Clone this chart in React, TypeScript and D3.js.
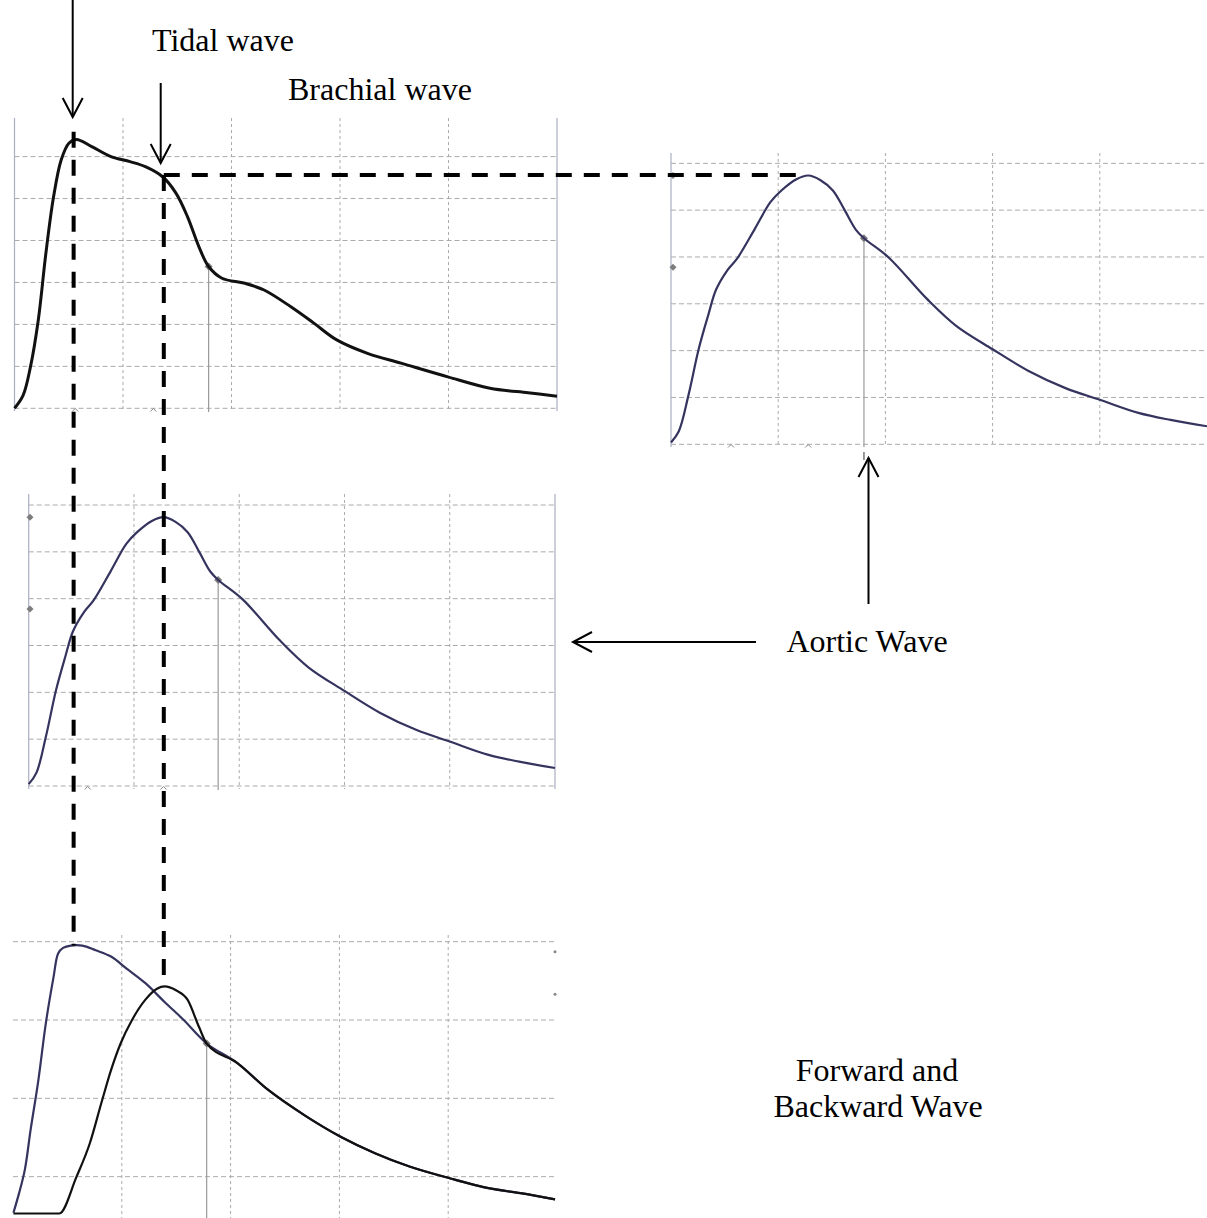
import React from "react";
import * as d3 from "d3";

// ---------- DATA (grid units: x = columns, y = rows) ----------
const brachialWave: [number, number][] = [
  [0.0, 0.0], [0.078, 0.3], [0.148, 1.0], [0.219, 2.1], [0.289, 3.69], [0.36, 5.04],
  [0.43, 5.92], [0.501, 6.32], [0.571, 6.41], [0.712, 6.24], [0.889, 6.0], [1.065, 5.88],
  [1.206, 5.76], [1.365, 5.52], [1.488, 5.13], [1.594, 4.57], [1.7, 3.85], [1.789, 3.38],
  [1.912, 3.1], [2.124, 2.98], [2.3, 2.82], [2.547, 2.42], [2.759, 2.03], [2.97, 1.63],
  [3.253, 1.31], [3.57, 1.07], [3.994, 0.75], [4.382, 0.48], [4.733, 0.37], [5.0, 0.29],
];

const aorticWave: [number, number][] = [
  [0.0, 0.04], [0.073, 0.28], [0.163, 1.05], [0.26, 2.05], [0.35, 2.78], [0.42, 3.3],
  [0.527, 3.72], [0.618, 3.97], [0.782, 4.6], [0.927, 5.17], [1.03, 5.42], [1.17, 5.66],
  [1.28, 5.74], [1.395, 5.64], [1.51, 5.42], [1.62, 5.0], [1.725, 4.58], [1.8, 4.4],
  [2.03, 3.99], [2.39, 3.1], [2.66, 2.53], [3.0, 2.03], [3.34, 1.56], [3.68, 1.2],
  [4.0, 0.95], [4.36, 0.67], [4.66, 0.52], [5.0, 0.385],
];

const forwardWave: [number, number][] = [
  [0.004, 0.54], [0.056, 0.79], [0.109, 1.09], [0.162, 1.6], [0.233, 2.23], [0.302, 2.96],
  [0.373, 3.55], [0.415, 3.85], [0.46, 3.92], [0.531, 3.95], [0.637, 3.95], [0.76, 3.89],
  [0.901, 3.81], [1.041, 3.66], [1.217, 3.47], [1.393, 3.23], [1.569, 3.0], [1.78, 2.7],
  [2.062, 2.45], [2.343, 2.11], [2.695, 1.77], [3.011, 1.51], [3.327, 1.3], [3.644, 1.13],
  [4.014, 0.98], [4.383, 0.85], [4.665, 0.79], [4.982, 0.71],
];

const backwardWave: [number, number][] = [
  [0.004, 0.53], [0.426, 0.53], [0.584, 1.0], [0.707, 1.43], [0.812, 1.94], [0.901, 2.36],
  [0.989, 2.7], [1.094, 3.0], [1.217, 3.26], [1.323, 3.4], [1.393, 3.43], [1.498, 3.38],
  [1.604, 3.26], [1.71, 2.91], [1.78, 2.7], [2.062, 2.45], [2.343, 2.11], [2.695, 1.77],
  [3.011, 1.51], [3.327, 1.3], [3.644, 1.13], [4.014, 0.98], [4.383, 0.85], [4.665, 0.79],
  [4.982, 0.71],
];

const colTicks = [1, 2, 3, 4];
const rowTicks = [0, 1, 2, 3, 4, 5, 6];
const forwardRowTicks = [1, 2, 3, 4];

const markerTimes = { brachial: 1.789, aortic: 1.8, combined: 1.78 };
const aorticSideMarks = [5.74, 3.78];
const caretTimes = [0.56, 1.28];

const systolicPeakTime = 0.545;
const tidalTime = 1.376;
const tidalLevel = 5.56;
const dashedTopLevel = 6.59;
const aorticDashEnd = 1.17;

const labelTexts = ["Tidal wave", "Brachial wave", "Aortic Wave", "Forward and", "Backward Wave"];

// ---------- LAYOUT ----------
const W = 1207;
const H = 1218;
const FONT = "'Liberation Serif', 'Times New Roman', serif";
const NAVY = "#34345f";
const GRID = "#ababab";
const BORDER = "#a9aec4";

const x1 = d3.scaleLinear().domain([0, 5]).range([14.5, 557]);
const y1 = d3.scaleLinear().domain([0, 1]).range([408.3, 408.3 - 41.95]);
const x2 = d3.scaleLinear().domain([0, 5]).range([671, 1207]);
const y2 = d3.scaleLinear().domain([0, 1]).range([444.3, 444.3 - 46.83]);
const x3 = d3.scaleLinear().domain([0, 5]).range([28.7, 555]);
const y3 = d3.scaleLinear().domain([0, 1]).range([786, 786 - 46.83]);
const x4 = d3.scaleLinear().domain([0, 5]).range([13, 557]);
const y4 = d3.scaleLinear().domain([0, 1]).range([1255, 1255 - 78.33]);

type Sc = d3.ScaleLinear<number, number>;

function linePath(data: [number, number][], x: Sc, y: Sc, smooth = true) {
  return (
    d3
      .line<[number, number]>()
      .x((d) => x(d[0]))
      .y((d) => y(d[1]))
      .curve(smooth ? d3.curveCatmullRom.alpha(0.5) : d3.curveMonotoneX)(data) || ""
  );
}

function valueAt(data: [number, number][], t: number) {
  for (let i = 0; i < data.length - 1; i++) {
    const a = data[i];
    const b = data[i + 1];
    if (t >= a[0] && t <= b[0]) {
      const k = (t - a[0]) / (b[0] - a[0]);
      return a[1] + k * (b[1] - a[1]);
    }
  }
  return data[data.length - 1][1];
}

function Grid({
  x, y, rows, top, bottom, left, right, leftBorder, rightBorder,
}: {
  x: Sc; y: Sc; rows: number[]; top: number; bottom: number; left: number; right: number;
  leftBorder?: boolean; rightBorder?: boolean;
}) {
  return (
    <g>
      {rows.map((r) => (
        <line key={"h" + r} x1={left} x2={right} y1={y(r)} y2={y(r)}
          stroke={GRID} strokeWidth={1} strokeDasharray="5,3" />
      ))}
      {colTicks.map((c) => (
        <line key={"v" + c} x1={x(c)} x2={x(c)} y1={top} y2={bottom}
          stroke={GRID} strokeWidth={1} strokeDasharray="3,3" />
      ))}
      {leftBorder && <line x1={left} x2={left} y1={top} y2={bottom} stroke={BORDER} strokeWidth={1.2} />}
      {rightBorder && <line x1={right} x2={right} y1={top} y2={bottom} stroke={BORDER} strokeWidth={1.2} />}
    </g>
  );
}

function Diamond({ cx, cy, s = 4 }: { cx: number; cy: number; s?: number }) {
  return (
    <path d={`M${cx},${cy - s}L${cx + s},${cy}L${cx},${cy + s}L${cx - s},${cy}Z`} fill="#7d7d7d" />
  );
}

function Caret({ cx, cy }: { cx: number; cy: number }) {
  return <path d={`M${cx - 3},${cy + 3}L${cx},${cy}L${cx + 3},${cy + 3}`} fill="none" stroke="#888" strokeWidth={1} />;
}

function Arrow({ fx, fy, tx, ty }: { fx: number; fy: number; tx: number; ty: number }) {
  const dx = tx - fx;
  const dy = ty - fy;
  const L = Math.hypot(dx, dy);
  const ux = dx / L;
  const uy = dy / L;
  const hl = 19;
  const hw = 10;
  const bx = tx - ux * hl;
  const by = ty - uy * hl;
  const p1 = [bx - uy * hw, by + ux * hw];
  const p2 = [bx + uy * hw, by - ux * hw];
  return (
    <g stroke="#000" strokeWidth={2} fill="none">
      <line x1={fx} y1={fy} x2={tx} y2={ty} />
      <path d={`M${p1[0]},${p1[1]}L${tx},${ty}L${p2[0]},${p2[1]}`} />
    </g>
  );
}

function Stem({ x, y, t, data, bottom }: { x: Sc; y: Sc; t: number; data: [number, number][]; bottom: number }) {
  const v = valueAt(data, t);
  return (
    <g>
      <line x1={x(t)} x2={x(t)} y1={y(v)} y2={bottom} stroke="#9a9a9a" strokeWidth={1.2} />
      <Diamond cx={x(t)} cy={y(v)} />
    </g>
  );
}

export default function App() {
  const fwdPeak = d3.max(forwardWave, (d) => d[1]) as number;
  const bwdPeak = d3.max(backwardWave, (d) => d[1]) as number;
  const vx1 = x1(systolicPeakTime);
  const vx2 = x1(tidalTime);
  const hy = y1(tidalLevel);

  return (
    <svg width={W} height={H} viewBox={`0 0 ${W} ${H}`}
      style={{ position: "absolute", left: 0, top: 0, background: "#fff" }}>
      <rect x={0} y={0} width={W} height={H} fill="#fff" />

      {/* Panel 1: brachial */}
      <Grid x={x1} y={y1} rows={rowTicks} top={118} bottom={411} left={14.5} right={557} leftBorder rightBorder />
      {caretTimes.map((t) => <Caret key={"c1" + t} cx={x1(t)} cy={408.5} />)}
      <Stem x={x1} y={y1} t={markerTimes.brachial} data={brachialWave} bottom={412} />
      <path d={linePath(brachialWave, x1, y1)} fill="none" stroke="#111" strokeWidth={3} strokeLinejoin="round" />

      {/* Panel 2: aortic (right) */}
      <Grid x={x2} y={y2} rows={rowTicks} top={153} bottom={447} left={671} right={1207} leftBorder />
      {caretTimes.map((t) => <Caret key={"c2" + t} cx={x2(t)} cy={444.5} />)}
      <Stem x={x2} y={y2} t={markerTimes.aortic} data={aorticWave} bottom={447} />
      <line x1={x2(markerTimes.aortic)} x2={x2(markerTimes.aortic)} y1={452} y2={460} stroke="#777" strokeWidth={1.5} />
      {aorticSideMarks.map((v) => <Diamond key={"s2" + v} cx={673} cy={y2(v)} s={3.5} />)}
      <path d={linePath(aorticWave, x2, y2)} fill="none" stroke={NAVY} strokeWidth={2.2} strokeLinejoin="round" />

      {/* Panel 3: aortic (middle) */}
      <Grid x={x3} y={y3} rows={rowTicks} top={494} bottom={789} left={28.7} right={555} leftBorder rightBorder />
      {caretTimes.map((t) => <Caret key={"c3" + t} cx={x3(t)} cy={786.5} />)}
      <Stem x={x3} y={y3} t={markerTimes.aortic} data={aorticWave} bottom={790} />
      {aorticSideMarks.map((v) => <Diamond key={"s3" + v} cx={30} cy={y3(v)} s={3.5} />)}
      <path d={linePath(aorticWave, x3, y3)} fill="none" stroke={NAVY} strokeWidth={2.2} strokeLinejoin="round" />

      {/* Panel 4: forward and backward */}
      <Grid x={x4} y={y4} rows={forwardRowTicks} top={935} bottom={H} left={13} right={555} />
      <circle cx={555} cy={y4(3.87)} r={1.5} fill="#888" />
      <circle cx={555} cy={y4(3.33)} r={1.5} fill="#888" />
      <Stem x={x4} y={y4} t={markerTimes.combined} data={forwardWave} bottom={H} />
      <path d={linePath(forwardWave, x4, y4)} fill="none" stroke={NAVY} strokeWidth={2.2} strokeLinejoin="round" />
      <path d={linePath(backwardWave, x4, y4, false)} fill="none" stroke="#111" strokeWidth={2.2} strokeLinejoin="round" />

      {/* Dashed guide lines */}
      <line x1={vx1} x2={vx1} y1={y1(dashedTopLevel)} y2={y4(fwdPeak)} stroke="#000" strokeWidth={4} strokeDasharray="16,12" />
      <line x1={vx2} x2={vx2} y1={hy} y2={y4(bwdPeak)} stroke="#000" strokeWidth={4} strokeDasharray="16,12" />
      <line x1={vx2} x2={x2(aorticDashEnd)} y1={hy} y2={hy} stroke="#000" strokeWidth={4} strokeDasharray="16,12" />

      {/* Arrows */}
      <Arrow fx={72.7} fy={0} tx={72.7} ty={117} />
      <Arrow fx={160.7} fy={83} tx={160.7} ty={163} />
      <Arrow fx={756} fy={642} tx={573} ty={642} />
      <Arrow fx={868.5} fy={604} tx={868.5} ty={458} />

      {/* Labels */}
      <g fontFamily={FONT} fontSize={32} fill="#000">
        <text x={152} y={51}>{labelTexts[0]}</text>
        <text x={288} y={100}>{labelTexts[1]}</text>
        <text x={867} y={652} textAnchor="middle">{labelTexts[2]}</text>
        <text x={877} y={1081} textAnchor="middle">{labelTexts[3]}</text>
        <text x={878} y={1117} textAnchor="middle">{labelTexts[4]}</text>
      </g>
    </svg>
  );
}
